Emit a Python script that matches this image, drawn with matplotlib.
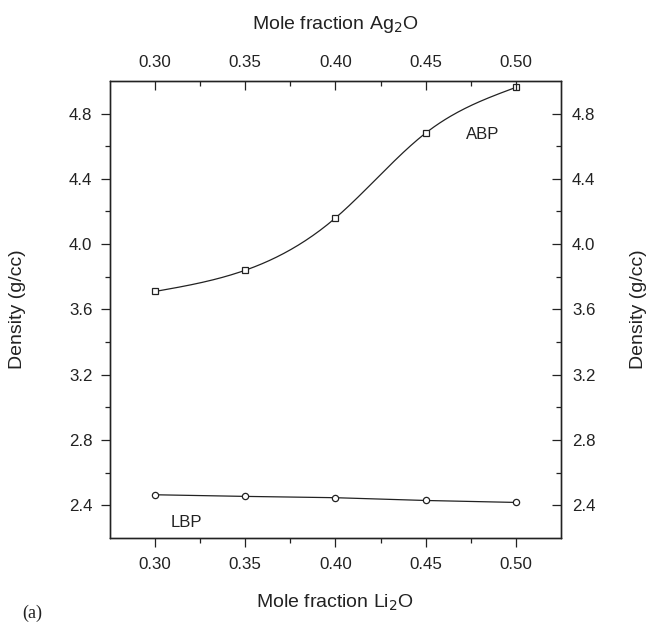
import numpy as np
from matplotlib import pyplot as plt

plt.rcParams['font.family'] = ['Liberation Sans', 'DejaVu Sans']

# Данные
x_frac = [0.30, 0.35, 0.40, 0.45, 0.50]
abp_density = [3.71, 3.84, 4.16, 4.68, 4.96]
lbp_density = [2.465, 2.455, 2.447, 2.43, 2.418]
x_ticks = [0.30, 0.35, 0.40, 0.45, 0.50]
y_ticks = [2.4, 2.8, 3.2, 3.6, 4.0, 4.4, 4.8]


# Натуральный кубический сплайн для гладкой линии
def spline(xs, ys, n=200):
    xs = np.asarray(xs, float)
    ys = np.asarray(ys, float)
    k = len(xs)
    h = np.diff(xs)
    A = np.zeros((k, k))
    r = np.zeros(k)
    A[0, 0] = A[-1, -1] = 1
    for i in range(1, k - 1):
        A[i, i - 1] = h[i - 1]
        A[i, i] = 2 * (h[i - 1] + h[i])
        A[i, i + 1] = h[i]
        r[i] = 6 * ((ys[i + 1] - ys[i]) / h[i] - (ys[i] - ys[i - 1]) / h[i - 1])
    m = np.linalg.solve(A, r)
    xx = np.linspace(xs[0], xs[-1], n)
    j = np.clip(np.searchsorted(xs, xx) - 1, 0, k - 2)
    t = xx - xs[j]
    hj = h[j]
    a = (m[j + 1] - m[j]) / (6 * hj)
    b = m[j] / 2
    c = (ys[j + 1] - ys[j]) / hj - hj * (2 * m[j] + m[j + 1]) / 6
    return xx, ys[j] + c * t + b * t ** 2 + a * t ** 3


fig = plt.figure(figsize=(6.5, 6.22), dpi=100)
ax = fig.add_axes([0.169, 0.135, 0.694, 0.735])

line_col = '#222222'
fs_tick = 12.2
fs_lab = 14

xs, ys = spline(x_frac, abp_density)
ax.plot(xs, ys, color=line_col, lw=0.9)
ax.plot(x_frac, abp_density, 's', ms=4.2, mfc='white', mec=line_col, mew=0.9)
ax.plot(x_frac, lbp_density, '-', color=line_col, lw=0.9)
ax.plot(x_frac, lbp_density, 'o', ms=4.5, mfc='white', mec=line_col, mew=0.9)

ax.text(0.4817, 4.67, 'ABP', ha='center', va='center', fontsize=12, color=line_col)
ax.text(0.3176, 2.296, 'LBP', ha='center', va='center', fontsize=12, color=line_col)

ax.set_xlim(0.275, 0.525)
ax.set_ylim(2.2, 5.0)
ax.set_xticks(x_ticks)
ax.set_xticks(np.arange(0.325, 0.5, 0.05), minor=True)
ax.set_yticks(y_ticks)
ax.set_yticks(np.arange(2.6, 4.9, 0.4), minor=True)
ax.set_xticklabels([f'{v:.2f}' for v in x_ticks])
ax.set_yticklabels([f'{v:.1f}' for v in y_ticks])
ax.tick_params(which='major', direction='out', length=6.5, width=0.9,
               labelsize=fs_tick, colors=line_col)
ax.tick_params(which='minor', direction='out', length=3.5, width=0.9, colors=line_col)
ax.tick_params(axis='x', which='major', pad=7)
ax.tick_params(axis='y', which='major', pad=6)
ax.set_xlabel('Mole fraction Li$_2$O', fontsize=fs_lab, color=line_col)
ax.set_ylabel('Density (g/cc)', fontsize=fs_lab, color=line_col)
ax.xaxis.set_label_coords(0.5, -0.142)
ax.yaxis.set_label_coords(-0.205, 0.5)
ax.xaxis.label.set_va('center')
ax.yaxis.label.set_va('center')

# Верхняя ось
axt = ax.twiny()
axt.set_xlim(ax.get_xlim())
axt.set_xticks(x_ticks)
axt.set_xticks(np.arange(0.325, 0.5, 0.05), minor=True)
axt.set_xticklabels([f'{v:.2f}' for v in x_ticks])
axt.tick_params(which='major', direction='in', length=6.5, width=0.9,
                labelsize=fs_tick, colors=line_col, pad=8)
axt.tick_params(which='minor', direction='in', length=3.5, width=0.9, colors=line_col)
axt.set_xlabel('Mole fraction Ag$_2$O', fontsize=fs_lab, color=line_col)
axt.xaxis.set_label_coords(0.5, 1.124)
axt.xaxis.label.set_va('center')

# Правая ось
axr = ax.twinx()
axr.set_ylim(ax.get_ylim())
axr.set_yticks(y_ticks)
axr.set_yticks(np.arange(2.6, 4.9, 0.4), minor=True)
axr.set_yticklabels([f'{v:.1f}' for v in y_ticks])
axr.tick_params(which='major', direction='in', length=6.5, width=0.9,
                labelsize=fs_tick, colors=line_col, pad=8)
axr.tick_params(which='minor', direction='in', length=3.5, width=0.9, colors=line_col)
axr.set_ylabel('Density (g/cc)', fontsize=fs_lab, color=line_col)
axr.yaxis.set_label_coords(1.171, 0.5)
axr.yaxis.label.set_va('center')

for a in (ax, axt, axr):
    for s in a.spines.values():
        s.set_color(line_col)
        s.set_linewidth(0.9)

fig.text(0.049, 0.0145, '(a)', fontsize=13, family='Liberation Serif',
         color=line_col, ha='center', va='center')

fig.savefig('out.png', dpi=100)
